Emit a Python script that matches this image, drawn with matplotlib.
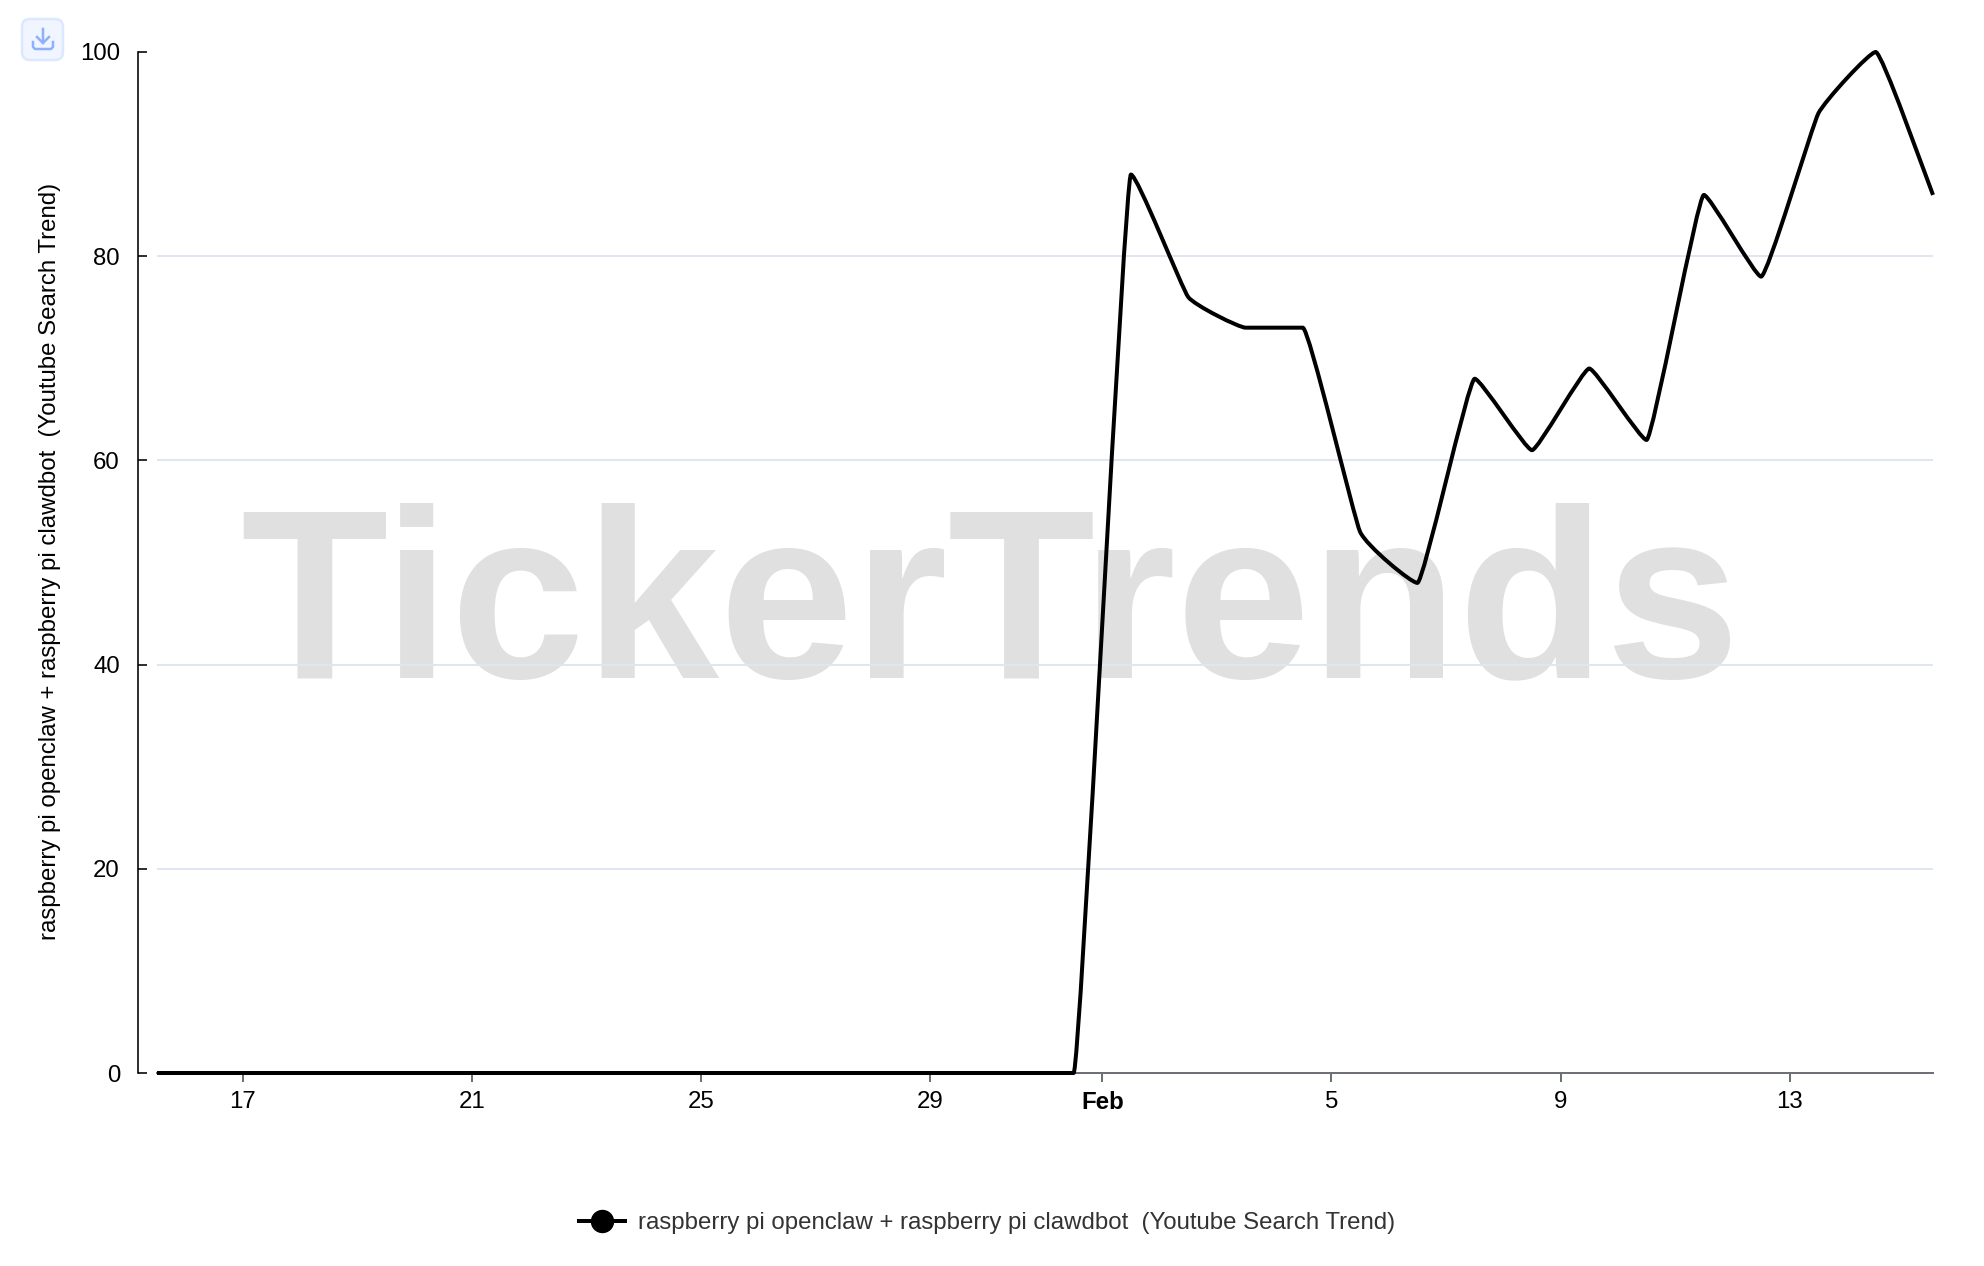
import numpy as np
import pandas as pd
import matplotlib
matplotlib.use("Agg")
import matplotlib.pyplot as plt
import matplotlib.dates as mdates
from matplotlib.lines import Line2D
from matplotlib.patches import FancyBboxPatch, PathPatch
from matplotlib.path import Path

plt.rcParams['font.family'] = ['Liberation Sans', 'DejaVu Sans']

# daily values, stamped at midday
DATES = pd.date_range("2026-01-15 12:00", "2026-02-15 12:00", freq="D")
VALUES = [0] * 17 + [88, 76, 73, 73, 53, 48, 68, 61, 69, 62, 86, 78, 94, 100, 86]

TICK_DATES = pd.to_datetime(["2026-01-17", "2026-01-21", "2026-01-25", "2026-01-29",
                             "2026-02-01", "2026-02-05", "2026-02-09", "2026-02-13"])
TICK_LABELS = ["17", "21", "25", "29", "Feb", "5", "9", "13"]
Y_TICKS = [0, 20, 40, 60, 80, 100]
GRID_LEVELS = [20, 40, 60, 80]
SERIES_NAME = "raspberry pi openclaw + raspberry pi clawdbot  (Youtube Search Trend)"

W, H = 1984, 1266
PX = 72 / 100  # one pixel in points
SMOOTH = 0.11
FONT = 17.25


def smooth_path(x, y, s):
    """Cubic bezier through the points, flat tangent at turning points."""
    n = len(x)
    slope = np.zeros(n)
    for i in range(1, n - 1):
        if (y[i] - y[i - 1]) * (y[i + 1] - y[i]) > 0:
            slope[i] = (y[i + 1] - y[i - 1]) / (x[i + 1] - x[i - 1])
    slope[-1] = (y[-1] - y[-2]) / (x[-1] - x[-2])
    verts = [(x[0], y[0])]
    codes = [Path.MOVETO]
    for i in range(n - 1):
        d = (x[i + 1] - x[i]) * s
        verts += [(x[i] + d, y[i] + slope[i] * d),
                  (x[i + 1] - d, y[i + 1] - slope[i + 1] * d),
                  (x[i + 1], y[i + 1])]
        codes += [Path.CURVE4] * 3
    return Path(verts, codes)


fig = plt.figure(figsize=(W / 100, H / 100), dpi=100, facecolor="white")
ax = fig.add_axes([157 / W, 1 - 1073 / H, (1933 - 157) / W, (1073 - 52) / H], zorder=2)
ax.patch.set_alpha(0)

# watermark sits behind everything
fig.text(240 / W, 1 - 677 / H, "TickerTrends", fontsize=174, fontweight="bold",
         color="#E0E0E0", ha="left", va="baseline", zorder=0)

x = mdates.date2num(DATES)
y = np.array(VALUES, dtype=float)
ax.add_patch(PathPatch(smooth_path(x, y, SMOOTH), fill=False, edgecolor="black",
                       lw=4 * PX, joinstyle="round", capstyle="butt",
                       clip_on=False, zorder=5))

ax.set_xlim(x[0], x[-1])
ax.set_ylim(0, 100)

ax.set_yticks(Y_TICKS)
# no rule at 0 or 100 in the original, so not ax.grid
ax.hlines(GRID_LEVELS, x[0], x[-1], color="#E0E6F1", lw=2 * PX, zorder=1)
ax.set_xticks(mdates.date2num(TICK_DATES))
ax.set_xticklabels(TICK_LABELS)
ax.get_xticklabels()[4].set_fontweight("bold")

for side in ("top", "right"):
    ax.spines[side].set_visible(False)
ax.spines["left"].set_position(("outward", 19 * PX))
ax.spines["left"].set_linewidth(1.6 * PX)
ax.spines["left"].set_color("black")
ax.spines["bottom"].set_linewidth(2 * PX)
ax.spines["bottom"].set_color("#6E7079")

ax.tick_params(axis="y", direction="in", length=9 * PX, width=1.6 * PX,
               color="black", labelsize=FONT, labelcolor="black", pad=18 * PX)
ax.tick_params(axis="x", direction="out", length=9 * PX, width=2 * PX,
               color="#6E7079", labelsize=FONT, labelcolor="black", pad=9 * PX)

fig.text(50 / W, 1 - 561 / H, SERIES_NAME, rotation=90, fontsize=FONT, color="black",
         ha="center", va="center")

handle = Line2D([], [], color="black", lw=4 * PX, marker="o", markersize=22 * PX,
                markerfacecolor="black", markeredgecolor="black")
fig.legend([handle], [SERIES_NAME], loc="center", bbox_to_anchor=(987 / W, 1 - 1223 / H),
           frameon=False, fontsize=FONT, labelcolor="#333333", handlelength=1.9,
           handletextpad=0.55, borderpad=0, borderaxespad=0)

# download button, top left
fig.add_artist(FancyBboxPatch((22 / W, 1 - 60 / H), 41 / W, 41 / H,
                              boxstyle="round,pad=0,rounding_size=0.004",
                              transform=fig.transFigure, mutation_aspect=W / H,
                              facecolor="#F0F5FF", edgecolor="#DCE8FF", lw=2.5 * PX))
icon = "#8FB0FF"
for xs, ys in [((43, 43), (29, 43)), ((37, 43, 49), (37, 43, 37)),
               ((33, 33, 35, 51, 53, 53), (42, 47, 49, 49, 47, 42))]:
    fig.add_artist(Line2D(np.array(xs) / W, 1 - np.array(ys) / H, color=icon,
                          lw=2.5 * PX, transform=fig.transFigure))

fig.savefig("out.png", dpi=100)
